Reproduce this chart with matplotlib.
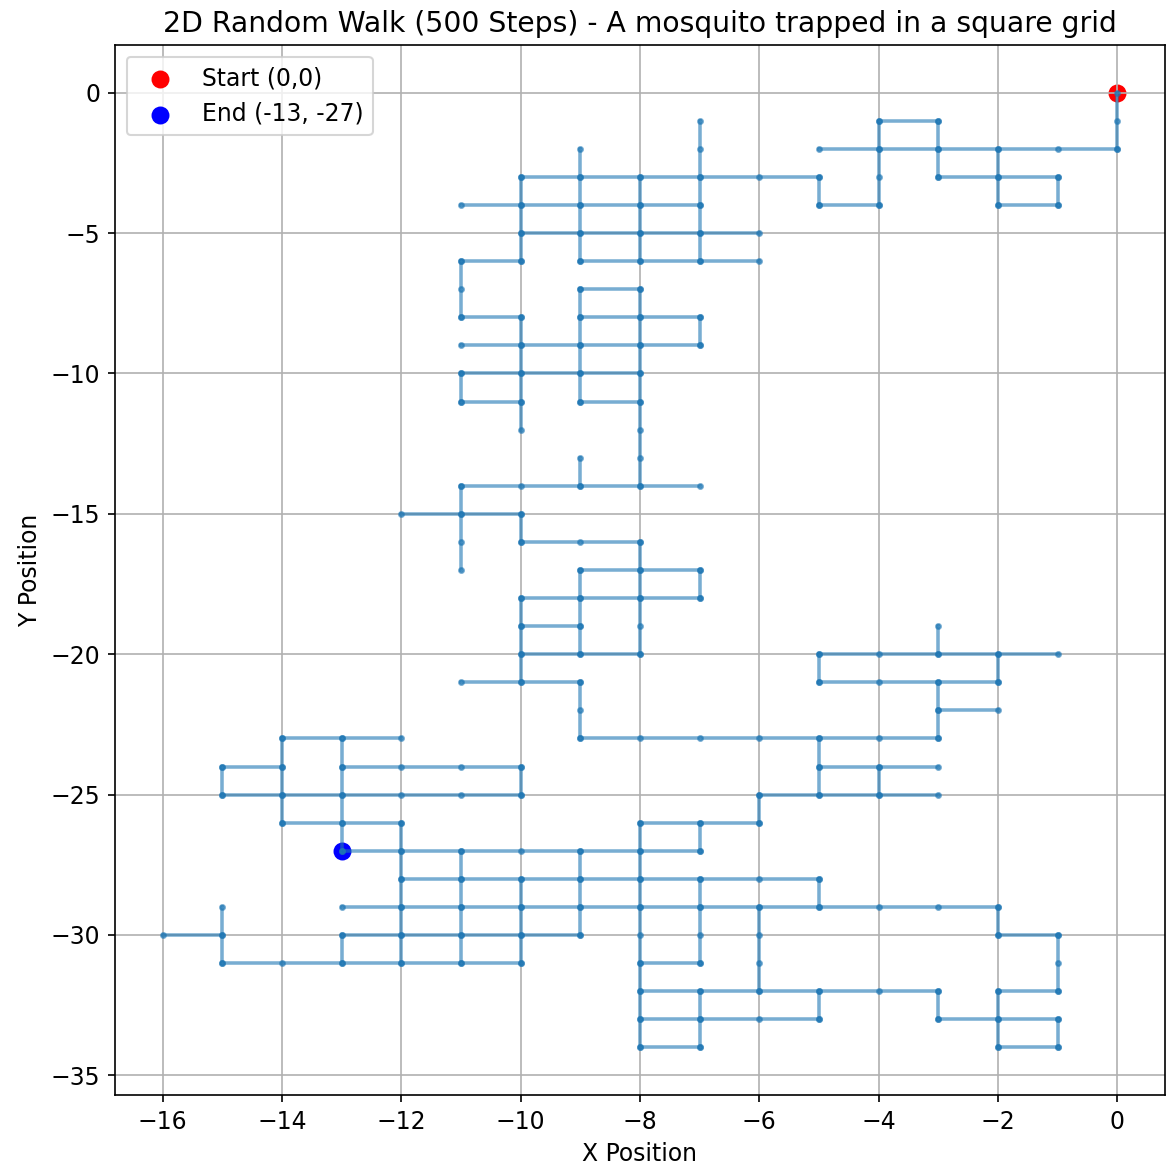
import numpy as np
import matplotlib
matplotlib.use("Agg")
import matplotlib.pyplot as plt

# walk read off the picture as straight runs on the unit grid
# horizontal runs: (y, x_from, x_to)
h_runs = [
    (-1, -4, -3), (-2, -5, 0), (-3, -10, -5), (-3, -3, -1),
    (-4, -11, -7), (-4, -5, -4), (-4, -2, -1),
    (-5, -10, -6), (-6, -11, -10), (-6, -9, -6), (-7, -9, -8),
    (-8, -11, -10), (-8, -9, -7), (-9, -11, -7), (-10, -11, -8),
    (-11, -11, -10), (-11, -9, -8), (-14, -11, -7), (-15, -12, -10),
    (-16, -10, -8), (-17, -9, -7), (-18, -10, -7), (-19, -10, -9),
    (-20, -10, -8), (-20, -5, -1), (-21, -11, -9), (-21, -5, -2),
    (-22, -3, -2), (-23, -9, -3), (-23, -14, -12),
    (-24, -15, -14), (-24, -13, -10), (-24, -5, -3),
    (-25, -15, -10), (-25, -6, -3), (-26, -14, -12), (-26, -8, -6),
    (-27, -13, -7), (-28, -12, -5), (-29, -13, -2),
    (-30, -16, -15), (-30, -13, -9), (-30, -2, -1),
    (-31, -15, -10), (-31, -8, -7), (-32, -8, -3), (-32, -2, -1),
    (-33, -8, -5), (-33, -3, -1), (-34, -8, -7), (-34, -2, -1),
]

# vertical runs: (x, y_from, y_to)
v_runs = [
    (0, 0, -2), (-4, -1, -4), (-3, -1, -3), (-2, -2, -4), (-1, -3, -4),
    (-5, -3, -4), (-9, -2, -6), (-7, -1, -6), (-10, -3, -6), (-8, -3, -6),
    (-11, -6, -8), (-10, -8, -12), (-9, -7, -11), (-8, -7, -14),
    (-7, -8, -9), (-11, -10, -11), (-9, -13, -14), (-11, -14, -17),
    (-10, -15, -16), (-8, -16, -20), (-7, -17, -18), (-9, -17, -20),
    (-10, -18, -21), (-9, -21, -23), (-3, -19, -20), (-5, -20, -21),
    (-2, -20, -21), (-3, -21, -23), (-5, -23, -25), (-4, -24, -25),
    (-6, -25, -26), (-14, -23, -26), (-15, -24, -25), (-13, -23, -27),
    (-10, -24, -25), (-12, -26, -31), (-11, -27, -31), (-10, -28, -31),
    (-15, -29, -31), (-13, -30, -31), (-7, -26, -27), (-9, -27, -30),
    (-8, -26, -34), (-5, -28, -29), (-7, -28, -31), (-6, -29, -32),
    (-7, -32, -34), (-5, -32, -33), (-3, -32, -33), (-2, -29, -30),
    (-1, -30, -32), (-2, -32, -34), (-1, -33, -34),
]

start = (0, 0)
end = (-13, -27)


def build_path(h_runs, v_runs):
    xs, ys = [], []
    for y, a, b in h_runs:
        pts = np.arange(a, b + 1)
        xs.extend(pts)
        ys.extend([y] * len(pts))
        xs.append(np.nan)
        ys.append(np.nan)
    for x, a, b in v_runs:
        pts = np.arange(a, b - 1, -1)
        xs.extend([x] * len(pts))
        ys.extend(pts)
        xs.append(np.nan)
        ys.append(np.nan)
    return np.array(xs, dtype=float), np.array(ys, dtype=float)


xs, ys = build_path(h_runs, v_runs)

plt.rcParams['font.size'] = 11.3

fig = plt.figure(figsize=(1166 / 150, 1168 / 150), dpi=150)
ax = fig.add_subplot(111)
fig.subplots_adjust(left=115 / 1166, right=1165 / 1166,
                    top=1 - 45 / 1168, bottom=1 - 1095 / 1168)

ax.plot(xs, ys, marker='o', markersize=2.3, alpha=0.6, linewidth=1.7,
        color='#1f77b4')
ax.scatter(*start, color='red', s=58, label='Start (0,0)')
ax.scatter(*end, color='blue', s=58, label=f'End ({end[0]}, {end[1]})')

ax.set_xticks(np.arange(-16, 1, 2))
ax.set_yticks(np.arange(-35, 1, 5))
ax.set_title('2D Random Walk (500 Steps) - A mosquito trapped in a square grid',
             fontsize=13.55)
ax.set_xlabel('X Position')
ax.set_ylabel('Y Position')
ax.legend(loc='upper left')
ax.grid(True)

fig.savefig('out.png', dpi=150)
